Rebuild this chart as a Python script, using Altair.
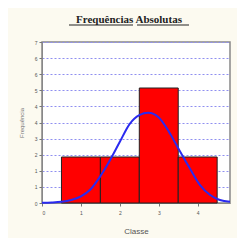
import altair as alt
import pandas as pd

# Histogram data
bin_start = [0.5, 1.5, 2.5, 3.5]
bin_end = [1.5, 2.5, 3.5, 4.5]
freq = [2, 2, 5, 2]

# Fitted normal curve
curve_x = [0, 0.25, 0.5, 0.75, 1.0, 1.25, 1.5, 1.75, 2.0, 2.25, 2.5, 2.73,
           3.0, 3.25, 3.5, 3.8, 4.06, 4.32, 4.57, 4.83]
curve_y = [0.01, 0.02, 0.05, 0.13, 0.29, 0.6, 1.17, 1.87, 2.66, 3.43, 3.82,
           3.92, 3.72, 3.13, 2.38, 1.5, 0.78, 0.35, 0.13, 0.05]

y_ticks = [0, 0.7, 1.4, 2.1, 2.8, 3.5, 4.2, 4.9, 5.6, 6.3, 7]
x_ticks = [0, 1, 2, 3, 4]

title_words = ["Frequências", "Absolutas"]

bars_df = pd.DataFrame({"x": bin_start, "x2": bin_end, "y": freq})
curve_df = pd.DataFrame({"x": curve_x, "y": curve_y})

xs = alt.Scale(domain=[0, 4.83], nice=False, zero=False)
ys = alt.Scale(domain=[0, 7], nice=False)

xaxis = alt.Axis(values=x_ticks, title="Classe", grid=False, labelFontSize=5,
                 labelColor="#555", titleFontSize=8, titleColor="#555",
                 titleFontWeight="normal", titlePadding=12, tickSize=3,
                 tickColor="#777", domainColor="#888", labelPadding=4)
yaxis = alt.Axis(values=y_ticks, labelExpr="format(datum.value, '.0f')",
                 title="Frequência", grid=True, gridColor="#8f8ff0",
                 gridDash=[2, 2], gridWidth=1, labelFontSize=5,
                 labelColor="#555", titleFontSize=6, titleColor="#777",
                 titleFontWeight="normal", titlePadding=10, tickSize=3,
                 tickColor="#777", domainColor="#888", labelPadding=2,
                 labelOverlap=False)

bars = alt.Chart(bars_df).mark_rect(color="#ff0000", stroke="#222",
                                    strokeWidth=1).encode(
    x=alt.X("x:Q", scale=xs, axis=xaxis),
    x2="x2:Q",
    y=alt.Y("y:Q", scale=ys, axis=yaxis),
    y2=alt.datum(0),
)

line = alt.Chart(curve_df).mark_line(color="#2a2af0", strokeWidth=2,
                                     interpolate="monotone").encode(
    x=alt.X("x:Q", scale=xs, axis=xaxis),
    y=alt.Y("y:Q", scale=ys, axis=yaxis),
)

title_df = pd.DataFrame({"t": [" ".join(title_words)]})
title = alt.Chart(title_df).mark_text(font="Liberation Serif", fontSize=11,
                                      fontWeight="bold", color="#222",
                                      align="center", baseline="alphabetic").encode(
    text="t:N", x=alt.value(87), y=alt.value(-19))

ul1 = alt.Chart(title_df).mark_rule(color="#222", strokeWidth=1.2).encode(
    x=alt.value(27), x2=alt.value(91), y=alt.value(-17))
ul2 = alt.Chart(title_df).mark_rule(color="#222", strokeWidth=1.2).encode(
    x=alt.value(95), x2=alt.value(147), y=alt.value(-17))

chart = alt.layer(bars, line, title, ul1, ul2).properties(
    width=188, height=161,
    autosize=alt.AutoSizeParams(type="none"),
    padding={"left": 34, "top": 34, "right": 7, "bottom": 35},
    background="#fcfaf0",
).configure_view(stroke="#888", strokeWidth=1.5, fill="white")

chart.save("out.html", embed_options={"renderer": "svg", "actions": False})
